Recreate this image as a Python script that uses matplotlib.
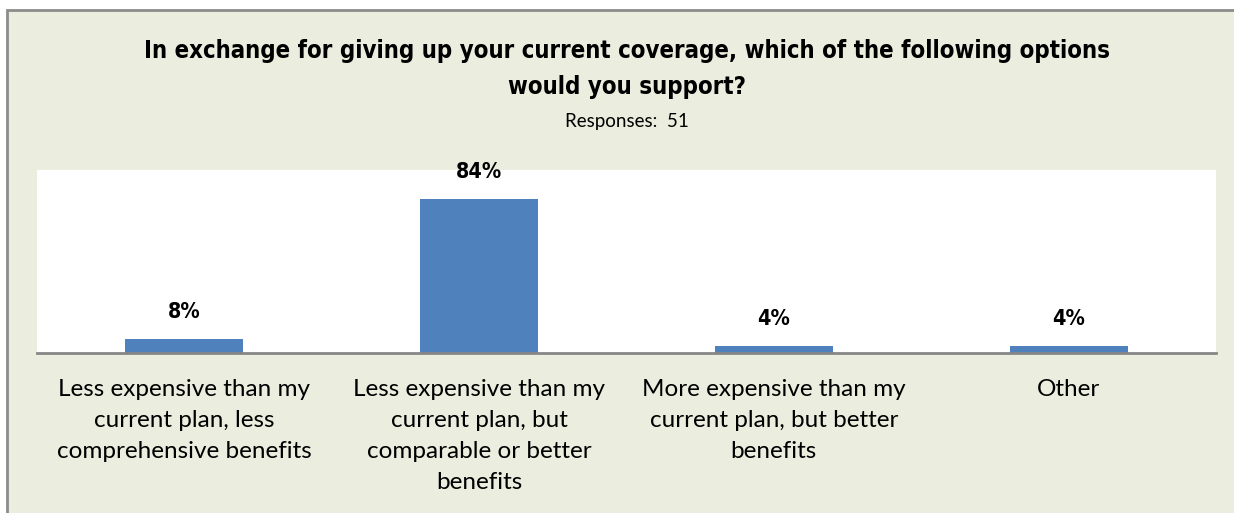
import matplotlib.pyplot as plt
from matplotlib.patches import Rectangle

categories = ["Less expensive than my\ncurrent plan, less\ncomprehensive benefits",
              "Less expensive than my\ncurrent plan, but\ncomparable or better\nbenefits",
              "More expensive than my\ncurrent plan, but better\nbenefits",
              "Other"]
values = [7.84, 84.31, 3.92, 3.92]
labels = ["8%", "84%", "4%", "4%"]

W, H = 1234, 513
fig = plt.figure(figsize=(W / 100, H / 100), dpi=100)
fig.patch.set_facecolor("white")

# chart area background + grey frame (runs off right/bottom edge)
bg = Rectangle((7 / W, -0.1), 1.1, (H - 10) / H + 0.1, transform=fig.transFigure,
               facecolor="#EBEEDF", edgecolor="#8C8C8C", linewidth=2, zorder=-1)
fig.patches.append(bg)

ax = fig.add_axes([37 / W, (H - 353) / H, (1216 - 37) / W, (353 - 170) / H])
ax.set_zorder(2)
ax.set_facecolor("white")
x = range(len(categories))
bars = ax.bar(x, values, width=0.4, color="#4F81BD", zorder=2)
ax.set_xlim(-0.5, 3.5)
ax.set_ylim(0, 100)
ax.set_yticks([])
ax.set_xticks(list(x))
ax.set_xticklabels(categories, fontsize=17.5, family="Lato", linespacing=1.58)
ax.tick_params(axis="x", length=0, pad=19)
for s in ["top", "right", "left"]:
    ax.spines[s].set_visible(False)
ax.spines["bottom"].set_color("#868686")
ax.spines["bottom"].set_linewidth(2)

bold = dict(fontweight="bold", family="DejaVu Sans", fontstretch="condensed")
for b, lab in zip(bars, labels):
    ax.annotate(lab, (b.get_x() + b.get_width() / 2, b.get_height()),
                xytext=(0, 27), textcoords="offset pixels", ha="center", va="center",
                fontsize=15.5, annotation_clip=False, **bold)

fig.text(627 / W, 1 - 51 / H, "In exchange for giving up your current coverage, which of the following options",
         ha="center", va="center", fontsize=17.2, **bold)
fig.text(627 / W, 1 - 87 / H, "would you support?",
         ha="center", va="center", fontsize=17.2, **bold)
fig.text(627 / W, 1 - 121 / H, "Responses:  51",
         ha="center", va="center", fontsize=13.5, family="Lato")

fig.savefig("out.png", dpi=100)
